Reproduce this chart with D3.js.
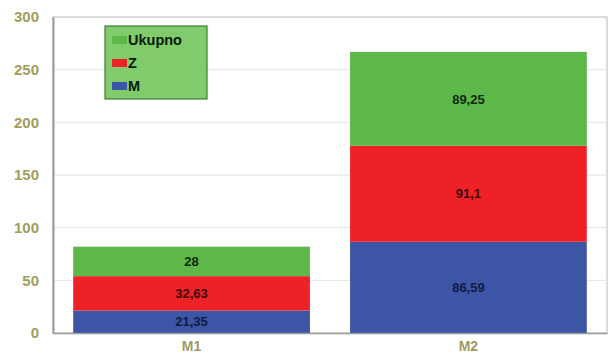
<!DOCTYPE html>
<html>
<head>
<meta charset="utf-8">
<script src="https://cdn.jsdelivr.net/npm/d3@7"></script>
<style>
  html, body { margin: 0; padding: 0; background: #ffffff; }
  svg { display: block; font-family: "Liberation Sans", Arial, sans-serif; }
</style>
</head>
<body>
<svg id="chart" width="611" height="358"></svg>
<script>
// Categories and stacked series (bottom to top)
const categories = ["M1", "M2"];
const seriesNames = ["M", "Z", "Ukupno"];
const valuesM = [21.35, 86.59];
const valuesZ = [32.63, 91.1];
const valuesUkupno = [28, 89.25];
const yTicks = [0, 50, 100, 150, 200, 250, 300];

const colors = { M: "#3c55a5", Z: "#ee2226", Ukupno: "#5db849" };
const labelColors = { M: "#111a44", Z: "#3a0a0a", Ukupno: "#0d2a0a" };

const rows = categories.map((c, i) => ({
  cat: c, M: valuesM[i], Z: valuesZ[i], Ukupno: valuesUkupno[i]
}));

const svg = d3.select("#chart");
const margin = { left: 53, right: 4, top: 17, bottom: 25 };
const W = 611, H = 358;

const x = d3.scaleBand()
  .domain(categories)
  .range([margin.left, W - margin.right])
  .paddingInner(0.145)
  .paddingOuter(0.073);

const y = d3.scaleLinear()
  .domain([0, 300])
  .range([H - margin.bottom, margin.top]);

// Plot frame
svg.append("rect")
  .attr("x", margin.left).attr("y", margin.top)
  .attr("width", W - margin.right - margin.left)
  .attr("height", y(0) - margin.top)
  .attr("fill", "#ffffff")
  .attr("stroke", "#b8b8b8").attr("stroke-width", 1);

// Horizontal grid lines
svg.append("g").selectAll("line")
  .data(yTicks.filter(t => t > 0 && t < 300))
  .join("line")
  .attr("x1", margin.left).attr("x2", W - margin.right)
  .attr("y1", d => y(d)).attr("y2", d => y(d))
  .attr("stroke", "#e4e4e4").attr("stroke-width", 1);

// Stacked bars
const stack = d3.stack().keys(seriesNames);
const layers = stack(rows);

const layerG = svg.append("g").selectAll("g")
  .data(layers)
  .join("g")
  .attr("fill", d => colors[d.key]);

layerG.selectAll("rect")
  .data(d => d.map(p => ({ key: d.key, p })))
  .join("rect")
  .attr("x", d => x(d.p.data.cat))
  .attr("width", x.bandwidth())
  .attr("y", d => y(d.p[1]))
  .attr("height", d => y(d.p[0]) - y(d.p[1]));

// Value labels
const fmt = v => String(v).replace(".", ",");
svg.append("g").selectAll("text")
  .data(layers.flatMap(l => l.map(p => ({ key: l.key, p }))))
  .join("text")
  .attr("x", d => x(d.p.data.cat) + x.bandwidth() / 2)
  .attr("y", d => (y(d.p[0]) + y(d.p[1])) / 2)
  .attr("dy", "0.36em")
  .attr("text-anchor", "middle")
  .attr("font-size", 13)
  .attr("font-weight", "bold")
  .attr("fill", d => labelColors[d.key])
  .text(d => fmt(d.p.data[d.key]));

// Y axis
const yAxis = svg.append("g")
  .attr("transform", `translate(${margin.left},0)`)
  .call(d3.axisLeft(y).tickValues(yTicks).tickSize(0).tickPadding(14));
yAxis.select(".domain").attr("stroke", "#9a9a9a").attr("stroke-width", 2);
yAxis.selectAll("text")
  .attr("font-size", 15).attr("font-weight", "bold")
  .attr("fill", "#a39d5c")
  .attr("font-family", "Liberation Sans, Arial, sans-serif");

// X axis
const xAxis = svg.append("g")
  .attr("transform", `translate(0,${y(0)})`)
  .call(d3.axisBottom(x).tickSize(0).tickPadding(8));
xAxis.select(".domain").attr("stroke", "#9a9a9a").attr("stroke-width", 1.5);
xAxis.selectAll("text")
  .attr("font-size", 14).attr("font-weight", "bold")
  .attr("fill", "#9e9a66")
  .attr("font-family", "Liberation Sans, Arial, sans-serif");

// Legend
const legend = svg.append("g").attr("transform", "translate(105,26)");
legend.append("rect")
  .attr("width", 102).attr("height", 73)
  .attr("fill", "#80cc6c")
  .attr("stroke", "#3f7a35").attr("stroke-width", 1.2);
const legendOrder = ["Ukupno", "Z", "M"];
const li = legend.selectAll("g.item")
  .data(legendOrder)
  .join("g")
  .attr("class", "item")
  .attr("transform", (d, i) => `translate(7,${14 + i * 23})`);
li.append("rect")
  .attr("x", 0).attr("y", -4)
  .attr("width", 15).attr("height", 8)
  .attr("fill", d => colors[d]);
li.append("text")
  .attr("x", 16).attr("dy", "0.36em")
  .attr("font-size", 14.5).attr("font-weight", "bold")
  .attr("fill", "#0a1a08")
  .text(d => d);
</script>
</body>
</html>
